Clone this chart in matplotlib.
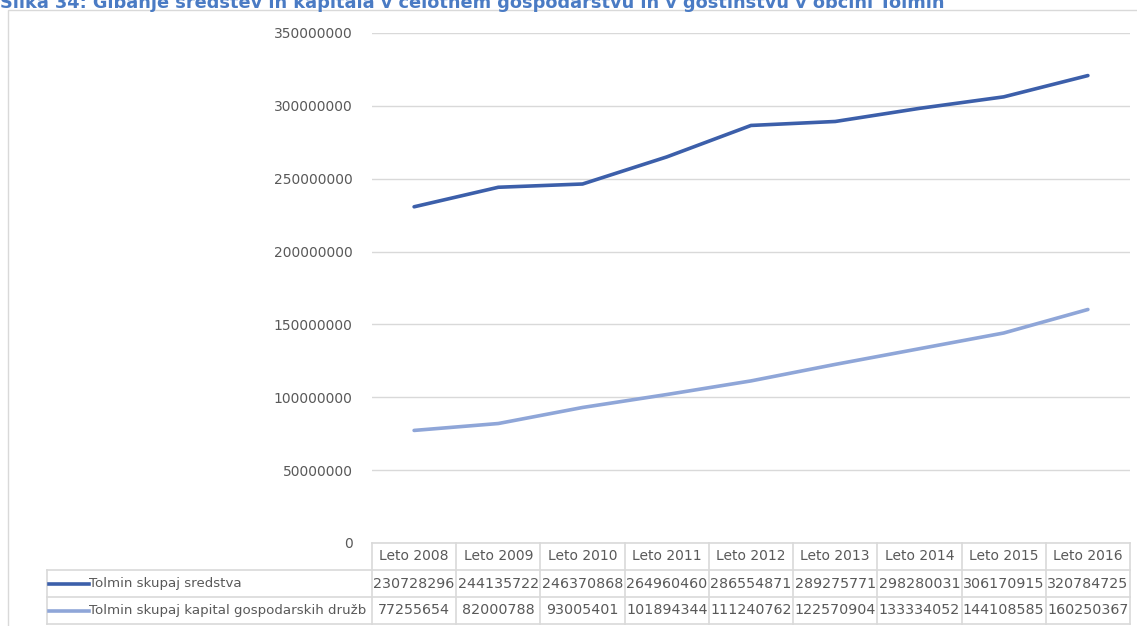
import matplotlib
matplotlib.use("Agg")
import matplotlib.pyplot as plt
from matplotlib.transforms import blended_transform_factory
from matplotlib.patches import Rectangle

# Podatki
years = ["Leto 2008", "Leto 2009", "Leto 2010", "Leto 2011", "Leto 2012",
         "Leto 2013", "Leto 2014", "Leto 2015", "Leto 2016"]
sredstva = [230728296, 244135722, 246370868, 264960460, 286554871,
            289275771, 298280031, 306170915, 320784725]
kapital = [77255654, 82000788, 93005401, 101894344, 111240762,
           122570904, 133334052, 144108585, 160250367]
series_names = ["Tolmin skupaj sredstva", "Tolmin skupaj kapital gospodarskih družb"]
series_colors = ["#3C5FAA", "#8FA6D8"]
title = "Slika 34: Gibanje sredstev in kapitala v celotnem gospodarstvu in v gostinstvu v občini Tolmin"

W, H = 1137, 626
fig = plt.figure(figsize=(W / 100, H / 100), dpi=100)

# okvir grafa
fig.patches.append(Rectangle((8 / W, 0 - 0.01), 1.1, 1 - 10 / H + 0.01,
                             transform=fig.transFigure, fill=False,
                             edgecolor="#D9D9D9", linewidth=1))
fig.text(0.0, 1 - 3 / H, title, color="#4A7BC4", fontsize=12.8,
         fontweight="bold", ha="left", va="center")

ax = fig.add_axes([372 / W, 1 - 543 / H, (1130 - 372) / W, (543 - 33) / H])
x = list(range(len(years)))
for vals, col in zip([sredstva, kapital], series_colors):
    ax.plot(x, vals, color=col, linewidth=2.6, solid_capstyle="round")

ax.set_xlim(-0.5, len(years) - 0.5)
ax.set_ylim(0, 350000000)
ax.set_yticks(range(0, 350000001, 50000000))
ax.set_yticklabels([str(v) for v in range(0, 350000001, 50000000)])
ax.tick_params(axis="y", length=0, pad=14, labelsize=10, labelcolor="#595959")
ax.set_xticks([])
ax.grid(axis="y", color="#D9D9D9", linewidth=1)
ax.set_axisbelow(True)
for s in ax.spines.values():
    s.set_visible(False)

# tabela s podatki
tr = blended_transform_factory(ax.transData, ax.transAxes)
rh = 27 / 510
lc = "#D9D9D9"
txt = "#595959"
left = -0.5 - 325 / 84.2
right = len(years) - 0.5

def hline(x0, x1, y):
    ax.plot([x0, x1], [y, y], transform=tr, color=lc, linewidth=1.2, clip_on=False)

def vline(xv, y0, y1):
    ax.plot([xv, xv], [y0, y1], transform=tr, color=lc, linewidth=1.2, clip_on=False)

hline(-0.5, right, 0)
hline(left, right, -rh)
hline(left, right, -2 * rh)
hline(left, right, -3 * rh)
for i in range(len(years) + 1):
    vline(i - 0.5, 0, -3 * rh)
vline(left, -rh, -3 * rh)

for i, y in enumerate(years):
    ax.text(i, -0.5 * rh, y, transform=tr, ha="center", va="center",
            fontsize=10, color=txt)
for r, (vals, name, col) in enumerate(zip([sredstva, kapital], series_names, series_colors)):
    yc = -(r + 1.5) * rh
    for i, v in enumerate(vals):
        ax.text(i, yc, str(v), transform=tr, ha="center", va="center",
                fontsize=10.3, color=txt)
    ax.plot([left + 0.03, left + 0.5], [yc, yc], transform=tr, color=col,
            linewidth=2.6, clip_on=False)
    ax.text(left + 0.5, yc, name, transform=tr, ha="left", va="center",
            fontsize=9.6, color=txt)

plt.savefig("out.png", dpi=100)
plt.close()
